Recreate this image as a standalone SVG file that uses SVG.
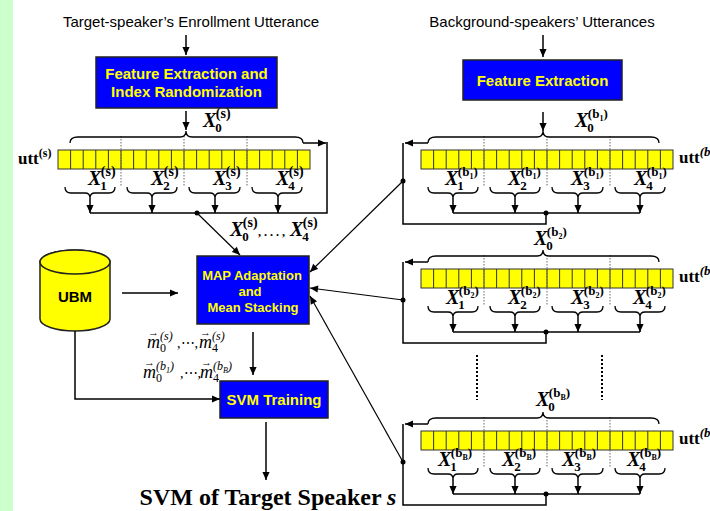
<svg xmlns="http://www.w3.org/2000/svg" xmlns:xlink="http://www.w3.org/1999/xlink" width="710" height="511" viewBox="0 0 710 511">
<style>
.ttl{font-family:"Liberation Sans",Arial,sans-serif;font-size:15px;fill:#000;text-anchor:middle}
.box{fill:#0000ff;stroke:#222;stroke-width:1.5}
.bt{font-family:"Liberation Sans",Arial,sans-serif;font-weight:bold;fill:#ffff00;text-anchor:middle}
.ln{stroke:#000;stroke-width:1.5;fill:none}
.thin{stroke:#000;stroke-width:1.2;fill:none}
.cell{fill:#ffff00;stroke:#333;stroke-width:1}
.cl{stroke:#333;stroke-width:1;fill:none}
.dv{stroke:#666;stroke-width:1;stroke-dasharray:1.5,1.5;fill:none}
.br{fill:none;stroke:#000;stroke-width:1.3}
.dot{fill:#000}
.X{font-family:"Liberation Serif","Times New Roman",serif;font-weight:bold;font-style:italic;font-size:20px;fill:#000}
.sb{font-size:13px;font-style:normal}
.sp{font-size:14px;font-style:normal}
.sp2{font-size:13px;font-style:normal}
.ss{font-size:8px;font-style:normal}
.m{font-family:"Liberation Serif","Times New Roman",serif;font-style:italic;font-size:18px;fill:#000}
.msb{font-size:12px;font-style:normal}
.msp{font-size:12px}
.ms2{font-size:8px}
.vec{font-size:11px;font-style:normal}
.utt{font-family:"Liberation Serif","Times New Roman",serif;font-weight:bold;font-size:17px;fill:#000}
.vd{stroke:#000;stroke-width:2;stroke-dasharray:2,2;fill:none}
</style>
<defs>
<marker id="ah" viewBox="0 0 10 10" refX="10" refY="5" markerWidth="9" markerHeight="8" orient="auto" markerUnits="userSpaceOnUse">
<path d="M0,0.5 L10,5 L0,9.5 z" fill="#000"/>
</marker>
<g id="bar">
<rect x="0" y="0" width="252" height="19" class="cell"/>
<path class="cl" d="M12.6,0v19M25.2,0v19M37.8,0v19M50.4,0v19M63,0v19M75.6,0v19M88.2,0v19M100.8,0v19M113.4,0v19M126,0v19M138.6,0v19M151.2,0v19M163.8,0v19M176.4,0v19M189,0v19M201.6,0v19M214.2,0v19M226.8,0v19M239.4,0v19"/>
</g>
<g id="rseg">
<use xlink:href="#bar" x="421" y="150"/>
<path class="dv" d="M484,136V187M547,136V187M610,136V187"/>
<path class="br" d="M428,143 Q428,137 436,137 L537,137 Q543,137 543,131 Q543,137 549,137 L651,137 Q659,137 659,143"/>
<path class="br" d="M428,187 Q428,193 434,193 L448,193 Q453,193 453,198 Q453,193 458,193 L472,193 Q478,193 478,187"/>
<path class="br" d="M490,187 Q490,193 496,193 L510,193 Q515,193 515,198 Q515,193 520,193 L534,193 Q540,193 540,187"/>
<path class="br" d="M552,187 Q552,193 558,193 L573,193 Q578,193 578,198 Q578,193 583,193 L597,193 Q603,193 603,187"/>
<path class="br" d="M615,187 Q615,193 621,193 L635,193 Q640,193 640,198 Q640,193 645,193 L659,193 Q665,193 665,187"/>
<path class="ln" d="M428,143H405" marker-end="url(#ah)"/>
<path class="ln" d="M453,198V213" marker-end="url(#ah)"/>
<path class="ln" d="M515,198V213" marker-end="url(#ah)"/>
<path class="ln" d="M578,198V213" marker-end="url(#ah)"/>
<path class="ln" d="M640,198V213" marker-end="url(#ah)"/>
<path class="ln" d="M453,213H640M403,143V224H546V213"/>
<circle class="dot" cx="546" cy="213" r="2.5"/>
<circle class="dot" cx="403" cy="181" r="2.5"/>
</g>
</defs>
<rect x="0" y="0" width="710" height="511" fill="#fff"/>
<rect x="0" y="0" width="13" height="511" fill="#ccffcc"/>

<g id="title-target">
<text class="ttl" x="191" y="27">Target-speaker’s Enrollment Utterance</text>
</g>
<g id="title-background">
<text class="ttl" x="542" y="27">Background-speakers’ Utterances</text>
</g>

<g id="feat-target">
<rect class="box" x="96" y="57" width="181" height="51"/>
<text class="bt" x="186.5" y="79" font-size="15">Feature Extraction and</text>
<text class="bt" x="186.5" y="97" font-size="15">Index Randomization</text>
</g>
<g id="feat-background">
<rect class="box" x="463" y="60" width="159" height="40"/>
<text class="bt" x="542.5" y="86" font-size="15">Feature Extraction</text>
</g>

<g id="utt-s">
<use xlink:href="#bar" x="58" y="150"/>
<path class="dv" d="M121,136V187M184,136V187M247,136V187"/>
<path class="br" d="M70,143 Q70,137 78,137 L180,137 Q186,137 186,131 Q186,137 192,137 L295,137 Q303,137 303,143"/>
<path class="br" d="M65,187 Q65,193 71,193 L85,193 Q90,193 90,198 Q90,193 95,193 L109,193 Q115,193 115,187"/>
<path class="br" d="M127,187 Q127,193 133,193 L147,193 Q152,193 152,198 Q152,193 157,193 L171,193 Q177,193 177,187"/>
<path class="br" d="M189,187 Q189,193 195,193 L210,193 Q215,193 215,198 Q215,193 220,193 L234,193 Q240,193 240,187"/>
<path class="br" d="M252,187 Q252,193 258,193 L273,193 Q278,193 278,198 Q278,193 283,193 L296,193 Q302,193 302,187"/>
<path class="ln" d="M90,198V213" marker-end="url(#ah)"/>
<path class="ln" d="M152,198V213" marker-end="url(#ah)"/>
<path class="ln" d="M215,198V213" marker-end="url(#ah)"/>
<path class="ln" d="M278,198V213" marker-end="url(#ah)"/>
<path class="ln" d="M303,143H326" marker-end="url(#ah)"/>
<path class="ln" d="M327,142V213H90"/>
<circle class="dot" cx="197" cy="213" r="2.5"/>
<text class="utt" x="18" y="164">utt<tspan font-size="12" dy="-7">(s)</tspan></text>
<text class="X" x="203" y="127">X<tspan class="sb" dx="-1" dy="5">0</tspan><tspan class="sp" dx="-6" dy="-14">(s)</tspan></text>
<text class="X" x="88" y="185">X<tspan class="sb" dx="-1" dy="5">1</tspan><tspan class="sp" dx="-6" dy="-14">(s)</tspan></text>
<text class="X" x="151" y="185">X<tspan class="sb" dx="-1" dy="5">2</tspan><tspan class="sp" dx="-6" dy="-14">(s)</tspan></text>
<text class="X" x="213" y="185">X<tspan class="sb" dx="-1" dy="5">3</tspan><tspan class="sp" dx="-6" dy="-14">(s)</tspan></text>
<text class="X" x="276" y="185">X<tspan class="sb" dx="-1" dy="5">4</tspan><tspan class="sp" dx="-6" dy="-14">(s)</tspan></text>
</g>

<g id="utt-b1">
<use xlink:href="#rseg"/>
<text class="utt" x="679" y="163">utt<tspan font-size="13" font-style="italic" dy="-7">(b<tspan font-size="9" dy="3">1</tspan>)</tspan></text>
<text class="X" x="575" y="127">X<tspan class="sb" dx="-1" dy="5">0</tspan><tspan class="sp2" dx="-6" dy="-14">(b</tspan><tspan class="ss" dy="3">1</tspan><tspan class="sp2" dy="-3">)</tspan></text>
<text class="X" x="445" y="185">X<tspan class="sb" dx="-1" dy="5">1</tspan><tspan class="sp2" dx="-6" dy="-14">(b</tspan><tspan class="ss" dy="3">1</tspan><tspan class="sp2" dy="-3">)</tspan></text>
<text class="X" x="508" y="185">X<tspan class="sb" dx="-1" dy="5">2</tspan><tspan class="sp2" dx="-6" dy="-14">(b</tspan><tspan class="ss" dy="3">1</tspan><tspan class="sp2" dy="-3">)</tspan></text>
<text class="X" x="571" y="185">X<tspan class="sb" dx="-1" dy="5">3</tspan><tspan class="sp2" dx="-6" dy="-14">(b</tspan><tspan class="ss" dy="3">1</tspan><tspan class="sp2" dy="-3">)</tspan></text>
<text class="X" x="634" y="185">X<tspan class="sb" dx="-1" dy="5">4</tspan><tspan class="sp2" dx="-6" dy="-14">(b</tspan><tspan class="ss" dy="3">1</tspan><tspan class="sp2" dy="-3">)</tspan></text>
</g>

<g id="utt-b2">
<use xlink:href="#rseg" y="119"/>
<text class="utt" x="679" y="282">utt<tspan font-size="13" font-style="italic" dy="-7">(b<tspan font-size="9" dy="3">2</tspan>)</tspan></text>
<text class="X" x="534" y="245">X<tspan class="sb" dx="-1" dy="5">0</tspan><tspan class="sp2" dx="-6" dy="-14">(b</tspan><tspan class="ss" dy="3">2</tspan><tspan class="sp2" dy="-3">)</tspan></text>
<text class="X" x="446" y="304">X<tspan class="sb" dx="-1" dy="5">1</tspan><tspan class="sp2" dx="-6" dy="-14">(b</tspan><tspan class="ss" dy="3">2</tspan><tspan class="sp2" dy="-3">)</tspan></text>
<text class="X" x="508" y="304">X<tspan class="sb" dx="-1" dy="5">2</tspan><tspan class="sp2" dx="-6" dy="-14">(b</tspan><tspan class="ss" dy="3">2</tspan><tspan class="sp2" dy="-3">)</tspan></text>
<text class="X" x="571" y="304">X<tspan class="sb" dx="-1" dy="5">3</tspan><tspan class="sp2" dx="-6" dy="-14">(b</tspan><tspan class="ss" dy="3">2</tspan><tspan class="sp2" dy="-3">)</tspan></text>
<text class="X" x="633" y="304">X<tspan class="sb" dx="-1" dy="5">4</tspan><tspan class="sp2" dx="-6" dy="-14">(b</tspan><tspan class="ss" dy="3">2</tspan><tspan class="sp2" dy="-3">)</tspan></text>
</g>

<g id="utt-bB">
<use xlink:href="#rseg" y="281"/>
<text class="utt" x="679" y="444">utt<tspan font-size="13" font-style="italic" dy="-7">(b<tspan font-size="9" dy="3">B</tspan>)</tspan></text>
<text class="X" x="536" y="406">X<tspan class="sb" dx="-1" dy="5">0</tspan><tspan class="sp2" dx="-6" dy="-14">(b</tspan><tspan class="ss" dy="3">B</tspan><tspan class="sp2" dy="-3">)</tspan></text>
<text class="X" x="438" y="466">X<tspan class="sb" dx="-1" dy="5">1</tspan><tspan class="sp2" dx="-6" dy="-14">(b</tspan><tspan class="ss" dy="3">B</tspan><tspan class="sp2" dy="-3">)</tspan></text>
<text class="X" x="502" y="466">X<tspan class="sb" dx="-1" dy="5">2</tspan><tspan class="sp2" dx="-6" dy="-14">(b</tspan><tspan class="ss" dy="3">B</tspan><tspan class="sp2" dy="-3">)</tspan></text>
<text class="X" x="562" y="466">X<tspan class="sb" dx="-1" dy="5">3</tspan><tspan class="sp2" dx="-6" dy="-14">(b</tspan><tspan class="ss" dy="3">B</tspan><tspan class="sp2" dy="-3">)</tspan></text>
<text class="X" x="627" y="466">X<tspan class="sb" dx="-1" dy="5">4</tspan><tspan class="sp2" dx="-6" dy="-14">(b</tspan><tspan class="ss" dy="3">B</tspan><tspan class="sp2" dy="-3">)</tspan></text>
</g>

<g id="ellipsis-dots">
<path class="vd" d="M477,355V400M602,355V400"/>
</g>

<g id="ubm">
<path d="M40,262 A35,12 0 0 1 110,262 V319 A35,12 0 0 1 40,319 Z" fill="#ffff00" stroke="#222" stroke-width="1.5"/>
<ellipse cx="75" cy="262" rx="35" ry="12" fill="#ffff00" stroke="#222" stroke-width="1.5"/>
<text x="75" y="302" font-family="Liberation Sans, Arial, sans-serif" font-weight="bold" font-size="15" text-anchor="middle">UBM</text>
</g>

<g id="map">
<rect class="box" x="197" y="256" width="112" height="68"/>
<text class="bt" x="252" y="280" font-size="13">MAP Adaptation</text>
<text class="bt" x="250" y="296" font-size="13">and</text>
<text class="bt" x="253" y="312" font-size="13">Mean Stacking</text>
</g>

<g id="svm">
<rect class="box" x="220" y="381" width="108" height="37"/>
<text class="bt" x="274" y="405" font-size="15">SVM Training</text>
</g>

<g id="output">
<text x="268" y="505" font-family="Liberation Serif, Times New Roman, serif" font-weight="bold" font-size="24" text-anchor="middle">SVM of Target Speaker <tspan font-style="italic">s</tspan></text>
</g>

<g id="connectors">
<path class="ln" d="M186,35V55" marker-end="url(#ah)"/>
<path class="ln" d="M543,35V57" marker-end="url(#ah)"/>
<path class="ln" d="M186,111V130" marker-end="url(#ah)"/>
<path class="ln" d="M543,112V131" marker-end="url(#ah)"/>
<path class="thin" d="M197,213L240,255" marker-end="url(#ah)"/>
<path class="thin" d="M403,181L310,272" marker-end="url(#ah)"/>
<path class="thin" d="M403,300L310,288" marker-end="url(#ah)"/>
<path class="thin" d="M403,462L310,296" marker-end="url(#ah)"/>
<path class="ln" d="M122,293H178" marker-end="url(#ah)"/>
<path class="ln" d="M75,331V399H220" marker-end="url(#ah)"/>
<path class="ln" d="M253,332V375" marker-end="url(#ah)"/>
<path class="ln" d="M266,422V480" marker-end="url(#ah)"/>
<text class="X" x="230" y="236">X<tspan class="sb" dx="-1" dy="5">0</tspan><tspan class="sp" dx="-6" dy="-14">(s)</tspan><tspan x="258" y="236" font-style="normal" font-size="12">, . . . ,</tspan><tspan x="290" y="236">X</tspan><tspan class="sb" dx="-1" dy="5">4</tspan><tspan class="sp" dx="-6" dy="-14">(s)</tspan></text>
<text class="m" x="147" y="348">m<tspan class="vec" x="148" y="336">→</tspan><tspan class="msb" x="160" y="352">0</tspan><tspan class="msp" x="160" y="340">(s)</tspan><tspan font-style="normal" font-size="14" x="177" y="348">,⋯,</tspan><tspan x="199" y="348">m</tspan><tspan class="vec" x="200" y="336">→</tspan><tspan class="msb" x="212" y="352">4</tspan><tspan class="msp" x="212" y="340">(s)</tspan></text>
<text class="m" x="143" y="378">m<tspan class="vec" x="144" y="366">→</tspan><tspan class="msb" x="156" y="382">0</tspan><tspan class="msp" x="156" y="370">(b</tspan><tspan class="ms2" dy="3">1</tspan><tspan class="msp" dy="-3">)</tspan><tspan font-style="normal" font-size="14" x="180" y="378">,⋯,</tspan><tspan x="200" y="378">m</tspan><tspan class="vec" x="201" y="366">→</tspan><tspan class="msb" x="213" y="382">4</tspan><tspan class="msp" x="213" y="370">(b</tspan><tspan class="ms2" dy="3">B</tspan><tspan class="msp" dy="-3">)</tspan></text>
</g>
</svg>
